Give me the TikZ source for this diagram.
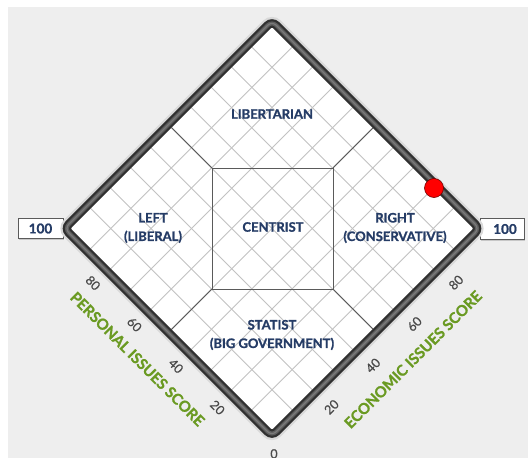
\documentclass[tikz,border=0pt]{standalone}
\usepackage{fontspec}
\setmainfont{Lato}[BoldFeatures={FakeBold=1.2}]
\usepackage{graphicx}
\usetikzlibrary{calc,shadows}
\definecolor{bggray}{HTML}{EEEEEE}
\definecolor{navy}{HTML}{253C66}
\definecolor{scoregreen}{HTML}{6A9A22}
\definecolor{tickgray}{HTML}{4A4A4A}
\definecolor{gridgray}{HTML}{C2C2C2}
\definecolor{linegray}{HTML}{5A5A5A}
\definecolor{framedark}{HTML}{303030}
\definecolor{framemid}{HTML}{5E5E5E}
\definecolor{framelight}{HTML}{7A7A7A}
\tikzset{
  gridline/.style={draw=gridgray, line width=0.9pt},
  regionline/.style={draw=linegray, line width=1pt},
  region/.style={text=navy, font=\fontsize{13}{18.5}\selectfont\bfseries, inner sep=0pt, align=center},
  ticklbl/.style={text=tickgray, font=\fontsize{12.5}{14}\selectfont\addfontfeature{FakeBold=0.8}, inner sep=0pt},
  axislbl/.style={text=scoregreen, font=\fontsize{15}{17}\selectfont\bfseries, inner sep=0pt},
  scorebox/.style={draw=linegray, fill=white, line width=0.8pt, text=navy,
     font=\fontsize{13.5}{15}\selectfont\bfseries, inner sep=0pt,
     drop shadow={shadow xshift=1.2pt, shadow yshift=-1.2pt, opacity=0.35}},
  frameshadow/.style={draw=black!15, line width=13pt, rounded corners=6pt},
  framemain/.style={draw=framedark, line width=8.5pt, rounded corners=6pt},
  framecore/.style={draw=framemid, line width=4pt, rounded corners=6pt},
  framehl/.style={draw=framelight, line width=1.2pt, rounded corners=6pt},
  dotstyle/.style={circle, fill=red, draw=red!45!black, line width=0.6pt, minimum size=19pt, inner sep=0pt}
}
\begin{document}
\begin{tikzpicture}[x=1pt,y=-1pt]
\useasboundingbox (0,0) rectangle (528,458);
\fill[white] (0,0) rectangle (528,458);
\fill[bggray] (8,7) rectangle (528,458);
% diamond coordinates
\coordinate (C) at (272,228.5);
\coordinate (L) at (70.5,228.5);
\coordinate (T) at (272,27);
\coordinate (R) at (473.5,228.5);
\coordinate (B) at (272,430);
\coordinate (FL) at (64.5,228.5);
\coordinate (FT) at (272,21);
\coordinate (FR) at (479.5,228.5);
\coordinate (FB) at (272,436);
% score boxes
\node[scorebox, minimum width=45pt, minimum height=20pt] (boxL) at (40.5,228.5) {100};
\node[scorebox, minimum width=44pt, minimum height=21pt] (boxR) at (502,229) {\hspace{6pt}100};
% frame shadow and white interior
\draw[frameshadow] (FL) -- (FT) -- (FR) -- (FB) -- cycle;
\fill[white] (FL) -- (FT) -- (FR) -- (FB) -- cycle;
% grid
\foreach \k in {1,...,9} {
  \pgfmathsetmacro\t{\k/10}
  \draw[gridline] ($(L)!\t!(T)$) -- ($(B)!\t!(R)$);
  \draw[gridline] ($(L)!\t!(B)$) -- ($(T)!\t!(R)$);
}
% centre square and region lines
\coordinate (sqTL) at (212,168);
\coordinate (sqTR) at (333,168);
\coordinate (sqBR) at (333,289);
\coordinate (sqBL) at (212,289);
\draw[regionline] (sqTL) -- (sqTR) -- (sqBR) -- (sqBL) -- cycle;
\draw[regionline] (sqTL) -- ($(L)!(sqTL)!(T)$);
\draw[regionline] (sqTR) -- ($(T)!(sqTR)!(R)$);
\draw[regionline] (sqBR) -- ($(R)!(sqBR)!(B)$);
\draw[regionline] (sqBL) -- ($(B)!(sqBL)!(L)$);
% frame
\draw[framemain] (FL) -- (FT) -- (FR) -- (FB) -- cycle;
\draw[framecore] (FL) -- (FT) -- (FR) -- (FB) -- cycle;
\draw[framehl] (FL) -- (FT) -- (FR) -- (FB) -- cycle;
% region labels
\node[region] (lib) at (272,114) {LIBERTARIAN};
\node[region] (left) at (153,228) {LEFT\\(LIBERAL)};
\node[region] (cen) at (273,227) {CENTRIST};
\node[region] (right) at (395,228) {RIGHT\\(CONSERVATIVE)};
\node[region] (stat) at (272,335) {STATIST\\(BIG GOVERNMENT)};
% tick labels
\foreach \v/\n in {0.2/20,0.4/40,0.6/60,0.8/80} {
  \node[ticklbl, rotate=-45] (tl\n) at ($(FB)!\v!(FL)+(-13,13)$) {\n};
  \node[ticklbl, rotate=45] (tr\n) at ($(FB)!\v!(FR)+(18,12.5)$) {\n};
}
\node[ticklbl, anchor=north] (zero) at (274,449) {0};
% axis titles
\node[axislbl, rotate=-45] (pers) at (137.5,359) {PERSONAL ISSUES SCORE};
\node[axislbl, rotate=45] (econ) at (413,359.5) {ECONOMIC ISSUES SCORE};
% marker
\node[dotstyle] (dot) at (434,188) {};
\end{tikzpicture}
\end{document}
